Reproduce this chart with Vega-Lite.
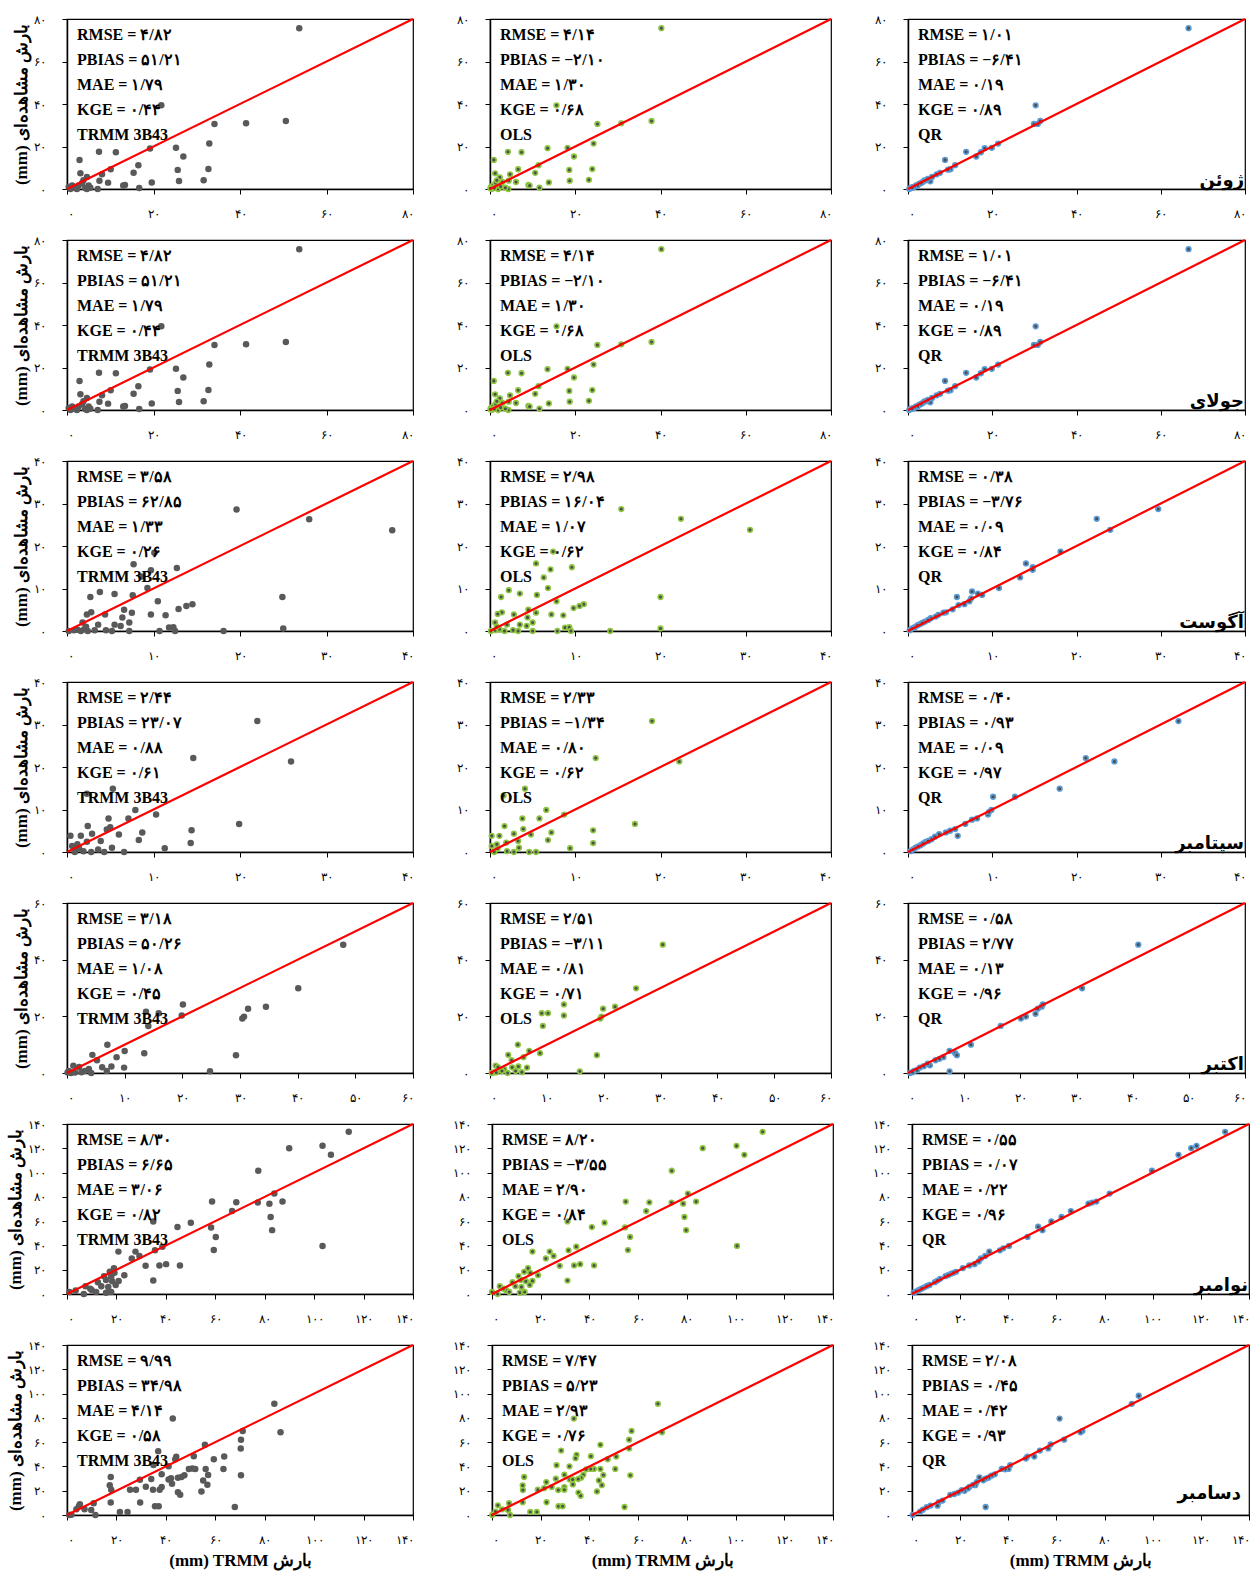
{
  "$schema": "https://vega.github.io/schema/vega-lite/v6.json",
  "background": "white",
  "padding": {"left": 5, "top": 12, "right": 0, "bottom": 5},
  "config": {
    "locale": {"number": {"decimal": "/", "thousands": ",", "grouping": [3], "currency": ["", ""], "numerals": ["۰", "۱", "۲", "۳", "۴", "۵", "۶", "۷", "۸", "۹"]}},
    "view": {"stroke": "#000000", "strokeWidth": 1.2},
    "axis": {"grid": false, "tickCount": 20, "domainColor": "#000000", "domainWidth": 1.5, "tickColor": "#000000", "tickSize": 5, "tickWidth": 1, "labelFont": "Liberation Serif", "labelFontSize": 12, "labelColor": "#000000", "titleFont": "Liberation Serif", "titleFontSize": 17, "titleFontWeight": "bold", "titleColor": "#000000"},
    "axisX": {"labelPadding": 14, "titlePadding": 7},
    "axisY": {"labelPadding": 17, "titlePadding": 3},
    "circle": {"opacity": 1},
    "line": {"color": "#ff0000", "strokeWidth": 2.2},
    "text": {"font": "Liberation Serif", "fontSize": 16, "fontWeight": "bold", "color": "#000000", "align": "left", "baseline": "top", "dx": 10, "dy": 8, "lineBreak": "\n", "lineHeight": 25}
  },
  "datasets": {
    "diag": [
      {"month": "Jun", "v": 0}, {"month": "Jun", "v": 80},
      {"month": "Jul", "v": 0}, {"month": "Jul", "v": 80},
      {"month": "Aug", "v": 0}, {"month": "Aug", "v": 40},
      {"month": "Sep", "v": 0}, {"month": "Sep", "v": 40},
      {"month": "Oct", "v": 0}, {"month": "Oct", "v": 60},
      {"month": "Nov", "v": 0}, {"month": "Nov", "v": 140},
      {"month": "Dec", "v": 0}, {"month": "Dec", "v": 140}
    ],
    "months": [
      {"month": "Jun", "name": "ژوئن"},
      {"month": "Jul", "name": "جولای"},
      {"month": "Aug", "name": "آگوست"},
      {"month": "Sep", "name": "سپتامبر"},
      {"month": "Oct", "name": "اکتبر"},
      {"month": "Nov", "name": "نوامبر"},
      {"month": "Dec", "name": "دسامبر"}
    ],
    "stats": [
      {"month": "Jun", "model": "TRMM", "text": "RMSE = ۴/۸۲\nPBIAS = ۵۱/۲۱\nMAE = ۱/۷۹\nKGE = ۰/۴۴\nTRMM 3B43"},
      {"month": "Jun", "model": "OLS", "text": "RMSE = ۴/۱۴\nPBIAS = −۲/۱۰\nMAE = ۱/۳۰\nKGE = ۰/۶۸\nOLS"},
      {"month": "Jun", "model": "QR", "text": "RMSE = ۱/۰۱\nPBIAS = −۶/۴۱\nMAE = ۰/۱۹\nKGE = ۰/۸۹\nQR"},
      {"month": "Jul", "model": "TRMM", "text": "RMSE = ۴/۸۲\nPBIAS = ۵۱/۲۱\nMAE = ۱/۷۹\nKGE = ۰/۴۴\nTRMM 3B43"},
      {"month": "Jul", "model": "OLS", "text": "RMSE = ۴/۱۴\nPBIAS = −۲/۱۰\nMAE = ۱/۳۰\nKGE = ۰/۶۸\nOLS"},
      {"month": "Jul", "model": "QR", "text": "RMSE = ۱/۰۱\nPBIAS = −۶/۴۱\nMAE = ۰/۱۹\nKGE = ۰/۸۹\nQR"},
      {"month": "Aug", "model": "TRMM", "text": "RMSE = ۳/۵۸\nPBIAS = ۶۲/۸۵\nMAE = ۱/۳۳\nKGE = ۰/۲۶\nTRMM 3B43"},
      {"month": "Aug", "model": "OLS", "text": "RMSE = ۲/۹۸\nPBIAS = ۱۶/۰۴\nMAE = ۱/۰۷\nKGE = ۰/۶۲\nOLS"},
      {"month": "Aug", "model": "QR", "text": "RMSE = ۰/۳۸\nPBIAS = −۳/۷۶\nMAE = ۰/۰۹\nKGE = ۰/۸۴\nQR"},
      {"month": "Sep", "model": "TRMM", "text": "RMSE = ۲/۴۴\nPBIAS = ۲۳/۰۷\nMAE = ۰/۸۸\nKGE = ۰/۶۱\nTRMM 3B43"},
      {"month": "Sep", "model": "OLS", "text": "RMSE = ۲/۳۳\nPBIAS = −۱/۳۴\nMAE = ۰/۸۰\nKGE = ۰/۶۲\nOLS"},
      {"month": "Sep", "model": "QR", "text": "RMSE = ۰/۴۰\nPBIAS = ۰/۹۳\nMAE = ۰/۰۹\nKGE = ۰/۹۷\nQR"},
      {"month": "Oct", "model": "TRMM", "text": "RMSE = ۳/۱۸\nPBIAS = ۵۰/۲۶\nMAE = ۱/۰۸\nKGE = ۰/۴۵\nTRMM 3B43"},
      {"month": "Oct", "model": "OLS", "text": "RMSE = ۲/۵۱\nPBIAS = −۳/۱۱\nMAE = ۰/۸۱\nKGE = ۰/۷۱\nOLS"},
      {"month": "Oct", "model": "QR", "text": "RMSE = ۰/۵۸\nPBIAS = ۲/۷۷\nMAE = ۰/۱۳\nKGE = ۰/۹۶\nQR"},
      {"month": "Nov", "model": "TRMM", "text": "RMSE = ۸/۳۰\nPBIAS = ۶/۶۵\nMAE = ۳/۰۶\nKGE = ۰/۸۲\nTRMM 3B43"},
      {"month": "Nov", "model": "OLS", "text": "RMSE = ۸/۲۰\nPBIAS = −۳/۵۵\nMAE = ۲/۹۰\nKGE = ۰/۸۴\nOLS"},
      {"month": "Nov", "model": "QR", "text": "RMSE = ۰/۵۵\nPBIAS = ۰/۰۷\nMAE = ۰/۲۲\nKGE = ۰/۹۶\nQR"},
      {"month": "Dec", "model": "TRMM", "text": "RMSE = ۹/۹۹\nPBIAS = ۳۴/۹۸\nMAE = ۴/۱۴\nKGE = ۰/۵۸\nTRMM 3B43"},
      {"month": "Dec", "model": "OLS", "text": "RMSE = ۷/۴۷\nPBIAS = ۵/۲۳\nMAE = ۲/۹۳\nKGE = ۰/۷۶\nOLS"},
      {"month": "Dec", "model": "QR", "text": "RMSE = ۲/۰۸\nPBIAS = ۰/۴۵\nMAE = ۰/۴۲\nKGE = ۰/۹۳\nQR"}
    ],
    "pts": [
      {"month":"Jun","model":"TRMM","est":53.7,"obs":75.7},{"month":"Jun","model":"TRMM","est":21.8,"obs":39.4},{"month":"Jun","model":"TRMM","est":34.1,"obs":30.6},{"month":"Jun","model":"TRMM","est":41.4,"obs":30.9},{"month":"Jun","model":"TRMM","est":50.6,"obs":32.0},{"month":"Jun","model":"TRMM","est":32.9,"obs":21.4},{"month":"Jun","model":"TRMM","est":25.2,"obs":19.4},{"month":"Jun","model":"TRMM","est":19.2,"obs":19.1},{"month":"Jun","model":"TRMM","est":26.9,"obs":15.3},{"month":"Jun","model":"TRMM","est":7.4,"obs":17.5},{"month":"Jun","model":"TRMM","est":11.3,"obs":17.3},{"month":"Jun","model":"TRMM","est":2.9,"obs":13.7},{"month":"Jun","model":"TRMM","est":16.5,"obs":11.2},{"month":"Jun","model":"TRMM","est":10.1,"obs":9.3},{"month":"Jun","model":"TRMM","est":25.6,"obs":9.0},{"month":"Jun","model":"TRMM","est":32.7,"obs":9.4},{"month":"Jun","model":"TRMM","est":15.4,"obs":7.6},{"month":"Jun","model":"TRMM","est":8.1,"obs":6.9},{"month":"Jun","model":"TRMM","est":3.1,"obs":7.4},{"month":"Jun","model":"TRMM","est":4.6,"obs":5.7},{"month":"Jun","model":"TRMM","est":7.5,"obs":3.9},{"month":"Jun","model":"TRMM","est":9.5,"obs":3.0},{"month":"Jun","model":"TRMM","est":19.6,"obs":3.1},{"month":"Jun","model":"TRMM","est":25.9,"obs":3.8},{"month":"Jun","model":"TRMM","est":31.6,"obs":4.1},{"month":"Jun","model":"TRMM","est":13.4,"obs":1.9},{"month":"Jun","model":"TRMM","est":13.0,"obs":1.6},{"month":"Jun","model":"TRMM","est":16.7,"obs":0.5},{"month":"Jun","model":"TRMM","est":7.1,"obs":0},{"month":"Jun","model":"TRMM","est":0.4,"obs":0.9},{"month":"Jun","model":"TRMM","est":1.2,"obs":1.7},{"month":"Jun","model":"TRMM","est":1.9,"obs":0.5},{"month":"Jun","model":"TRMM","est":2.7,"obs":1.6},{"month":"Jun","model":"TRMM","est":3.5,"obs":2.8},{"month":"Jun","model":"TRMM","est":4.2,"obs":0.5},{"month":"Jun","model":"TRMM","est":5.0,"obs":1.6},{"month":"Jun","model":"TRMM","est":2.3,"obs":0},{"month":"Jun","model":"TRMM","est":3.8,"obs":4.1},{"month":"Jun","model":"TRMM","est":5.4,"obs":0.6},{"month":"Jun","model":"TRMM","est":0.8,"obs":0},{"month":"Jun","model":"TRMM","est":4.6,"obs":0},
      {"month":"Jun","model":"OLS","est":40.2,"obs":75.7},{"month":"Jun","model":"OLS","est":15.6,"obs":39.4},{"month":"Jun","model":"OLS","est":25.2,"obs":30.6},{"month":"Jun","model":"OLS","est":30.8,"obs":30.9},{"month":"Jun","model":"OLS","est":37.9,"obs":32.0},{"month":"Jun","model":"OLS","est":24.3,"obs":21.4},{"month":"Jun","model":"OLS","est":18.2,"obs":19.4},{"month":"Jun","model":"OLS","est":13.5,"obs":19.2},{"month":"Jun","model":"OLS","est":19.7,"obs":15.3},{"month":"Jun","model":"OLS","est":4.2,"obs":17.5},{"month":"Jun","model":"OLS","est":7.4,"obs":17.3},{"month":"Jun","model":"OLS","est":0.9,"obs":13.7},{"month":"Jun","model":"OLS","est":11.4,"obs":11.2},{"month":"Jun","model":"OLS","est":6.6,"obs":9.3},{"month":"Jun","model":"OLS","est":18.6,"obs":9.0},{"month":"Jun","model":"OLS","est":24.0,"obs":9.4},{"month":"Jun","model":"OLS","est":10.6,"obs":7.6},{"month":"Jun","model":"OLS","est":4.7,"obs":6.9},{"month":"Jun","model":"OLS","est":1.2,"obs":7.4},{"month":"Jun","model":"OLS","est":2.3,"obs":5.5},{"month":"Jun","model":"OLS","est":4.4,"obs":3.9},{"month":"Jun","model":"OLS","est":6.1,"obs":3.3},{"month":"Jun","model":"OLS","est":9.0,"obs":1.9},{"month":"Jun","model":"OLS","est":9.3,"obs":1.6},{"month":"Jun","model":"OLS","est":13.8,"obs":3.1},{"month":"Jun","model":"OLS","est":18.7,"obs":3.9},{"month":"Jun","model":"OLS","est":23.2,"obs":4.3},{"month":"Jun","model":"OLS","est":11.6,"obs":0.6},{"month":"Jun","model":"OLS","est":4.3,"obs":0},{"month":"Jun","model":"OLS","est":0.2,"obs":0.9},{"month":"Jun","model":"OLS","est":0.7,"obs":1.7},{"month":"Jun","model":"OLS","est":1.3,"obs":2.8},{"month":"Jun","model":"OLS","est":1.9,"obs":0},{"month":"Jun","model":"OLS","est":2.5,"obs":1.2},{"month":"Jun","model":"OLS","est":2.9,"obs":3.3},{"month":"Jun","model":"OLS","est":0.4,"obs":0},{"month":"Jun","model":"OLS","est":1.6,"obs":4.1},{"month":"Jun","model":"OLS","est":3.6,"obs":0.6},{"month":"Jun","model":"OLS","est":0.1,"obs":0.3},{"month":"Jun","model":"OLS","est":1.0,"obs":0.5},
      {"month":"Jun","model":"QR","est":66.6,"obs":75.7},{"month":"Jun","model":"QR","est":30.3,"obs":39.4},{"month":"Jun","model":"QR","est":29.9,"obs":30.6},{"month":"Jun","model":"QR","est":30.8,"obs":30.6},{"month":"Jun","model":"QR","est":31.4,"obs":32.0},{"month":"Jun","model":"QR","est":21.4,"obs":21.4},{"month":"Jun","model":"QR","est":19.9,"obs":19.4},{"month":"Jun","model":"QR","est":18.2,"obs":19.2},{"month":"Jun","model":"QR","est":17.3,"obs":17.3},{"month":"Jun","model":"QR","est":13.8,"obs":17.5},{"month":"Jun","model":"QR","est":16.2,"obs":15.3},{"month":"Jun","model":"QR","est":8.8,"obs":13.7},{"month":"Jun","model":"QR","est":11.2,"obs":11.2},{"month":"Jun","model":"QR","est":10.1,"obs":9.3},{"month":"Jun","model":"QR","est":9.5,"obs":9.1},{"month":"Jun","model":"QR","est":7.6,"obs":7.6},{"month":"Jun","model":"QR","est":6.8,"obs":6.9},{"month":"Jun","model":"QR","est":5.7,"obs":5.7},{"month":"Jun","model":"QR","est":5.3,"obs":3.6},{"month":"Jun","model":"QR","est":3.9,"obs":4.1},{"month":"Jun","model":"QR","est":3.5,"obs":3.3},{"month":"Jun","model":"QR","est":2.7,"obs":2.5},{"month":"Jun","model":"QR","est":1.9,"obs":1.7},{"month":"Jun","model":"QR","est":1.1,"obs":0.9},{"month":"Jun","model":"QR","est":0.3,"obs":0},{"month":"Jun","model":"QR","est":2.3,"obs":1.6},{"month":"Jun","model":"QR","est":1.5,"obs":0.9},{"month":"Jun","model":"QR","est":0.7,"obs":0.5},{"month":"Jun","model":"QR","est":3.1,"obs":2.8},{"month":"Jun","model":"QR","est":4.3,"obs":4.1},{"month":"Jun","model":"QR","est":4.7,"obs":4.7},{"month":"Jun","model":"QR","est":0.5,"obs":0.3},{"month":"Jun","model":"QR","est":1.0,"obs":0.6},
      {"month":"Jul","model":"TRMM","est":53.7,"obs":75.7},{"month":"Jul","model":"TRMM","est":21.8,"obs":39.4},{"month":"Jul","model":"TRMM","est":34.1,"obs":30.6},{"month":"Jul","model":"TRMM","est":41.4,"obs":30.9},{"month":"Jul","model":"TRMM","est":50.6,"obs":32.0},{"month":"Jul","model":"TRMM","est":32.9,"obs":21.4},{"month":"Jul","model":"TRMM","est":25.2,"obs":19.4},{"month":"Jul","model":"TRMM","est":19.2,"obs":19.1},{"month":"Jul","model":"TRMM","est":26.9,"obs":15.3},{"month":"Jul","model":"TRMM","est":7.4,"obs":17.5},{"month":"Jul","model":"TRMM","est":11.3,"obs":17.3},{"month":"Jul","model":"TRMM","est":2.9,"obs":13.7},{"month":"Jul","model":"TRMM","est":16.5,"obs":11.2},{"month":"Jul","model":"TRMM","est":10.1,"obs":9.3},{"month":"Jul","model":"TRMM","est":25.6,"obs":9.0},{"month":"Jul","model":"TRMM","est":32.7,"obs":9.4},{"month":"Jul","model":"TRMM","est":15.4,"obs":7.6},{"month":"Jul","model":"TRMM","est":8.1,"obs":6.9},{"month":"Jul","model":"TRMM","est":3.1,"obs":7.4},{"month":"Jul","model":"TRMM","est":4.6,"obs":5.7},{"month":"Jul","model":"TRMM","est":7.5,"obs":3.9},{"month":"Jul","model":"TRMM","est":9.5,"obs":3.0},{"month":"Jul","model":"TRMM","est":19.6,"obs":3.1},{"month":"Jul","model":"TRMM","est":25.9,"obs":3.8},{"month":"Jul","model":"TRMM","est":31.6,"obs":4.1},{"month":"Jul","model":"TRMM","est":13.4,"obs":1.9},{"month":"Jul","model":"TRMM","est":13.0,"obs":1.6},{"month":"Jul","model":"TRMM","est":16.7,"obs":0.5},{"month":"Jul","model":"TRMM","est":7.1,"obs":0},{"month":"Jul","model":"TRMM","est":0.4,"obs":0.9},{"month":"Jul","model":"TRMM","est":1.2,"obs":1.7},{"month":"Jul","model":"TRMM","est":1.9,"obs":0.5},{"month":"Jul","model":"TRMM","est":2.7,"obs":1.6},{"month":"Jul","model":"TRMM","est":3.5,"obs":2.8},{"month":"Jul","model":"TRMM","est":4.2,"obs":0.5},{"month":"Jul","model":"TRMM","est":5.0,"obs":1.6},{"month":"Jul","model":"TRMM","est":2.3,"obs":0},{"month":"Jul","model":"TRMM","est":3.8,"obs":4.1},{"month":"Jul","model":"TRMM","est":5.4,"obs":0.6},{"month":"Jul","model":"TRMM","est":0.8,"obs":0},{"month":"Jul","model":"TRMM","est":4.6,"obs":0},
      {"month":"Jul","model":"OLS","est":40.2,"obs":75.7},{"month":"Jul","model":"OLS","est":15.6,"obs":39.4},{"month":"Jul","model":"OLS","est":25.2,"obs":30.6},{"month":"Jul","model":"OLS","est":30.8,"obs":30.9},{"month":"Jul","model":"OLS","est":37.9,"obs":32.0},{"month":"Jul","model":"OLS","est":24.3,"obs":21.4},{"month":"Jul","model":"OLS","est":18.2,"obs":19.4},{"month":"Jul","model":"OLS","est":13.5,"obs":19.2},{"month":"Jul","model":"OLS","est":19.7,"obs":15.3},{"month":"Jul","model":"OLS","est":4.2,"obs":17.5},{"month":"Jul","model":"OLS","est":7.4,"obs":17.3},{"month":"Jul","model":"OLS","est":0.9,"obs":13.7},{"month":"Jul","model":"OLS","est":11.4,"obs":11.2},{"month":"Jul","model":"OLS","est":6.6,"obs":9.3},{"month":"Jul","model":"OLS","est":18.6,"obs":9.0},{"month":"Jul","model":"OLS","est":24.0,"obs":9.4},{"month":"Jul","model":"OLS","est":10.6,"obs":7.6},{"month":"Jul","model":"OLS","est":4.7,"obs":6.9},{"month":"Jul","model":"OLS","est":1.2,"obs":7.4},{"month":"Jul","model":"OLS","est":2.3,"obs":5.5},{"month":"Jul","model":"OLS","est":4.4,"obs":3.9},{"month":"Jul","model":"OLS","est":6.1,"obs":3.3},{"month":"Jul","model":"OLS","est":9.0,"obs":1.9},{"month":"Jul","model":"OLS","est":9.3,"obs":1.6},{"month":"Jul","model":"OLS","est":13.8,"obs":3.1},{"month":"Jul","model":"OLS","est":18.7,"obs":3.9},{"month":"Jul","model":"OLS","est":23.2,"obs":4.3},{"month":"Jul","model":"OLS","est":11.6,"obs":0.6},{"month":"Jul","model":"OLS","est":4.3,"obs":0},{"month":"Jul","model":"OLS","est":0.2,"obs":0.9},{"month":"Jul","model":"OLS","est":0.7,"obs":1.7},{"month":"Jul","model":"OLS","est":1.3,"obs":2.8},{"month":"Jul","model":"OLS","est":1.9,"obs":0},{"month":"Jul","model":"OLS","est":2.5,"obs":1.2},{"month":"Jul","model":"OLS","est":2.9,"obs":3.3},{"month":"Jul","model":"OLS","est":0.4,"obs":0},{"month":"Jul","model":"OLS","est":1.6,"obs":4.1},{"month":"Jul","model":"OLS","est":3.6,"obs":0.6},{"month":"Jul","model":"OLS","est":0.1,"obs":0.3},{"month":"Jul","model":"OLS","est":1.0,"obs":0.5},
      {"month":"Jul","model":"QR","est":66.6,"obs":75.7},{"month":"Jul","model":"QR","est":30.3,"obs":39.4},{"month":"Jul","model":"QR","est":29.9,"obs":30.6},{"month":"Jul","model":"QR","est":30.8,"obs":30.6},{"month":"Jul","model":"QR","est":31.4,"obs":32.0},{"month":"Jul","model":"QR","est":21.4,"obs":21.4},{"month":"Jul","model":"QR","est":19.9,"obs":19.4},{"month":"Jul","model":"QR","est":18.2,"obs":19.2},{"month":"Jul","model":"QR","est":17.3,"obs":17.3},{"month":"Jul","model":"QR","est":13.8,"obs":17.5},{"month":"Jul","model":"QR","est":16.2,"obs":15.3},{"month":"Jul","model":"QR","est":8.8,"obs":13.7},{"month":"Jul","model":"QR","est":11.2,"obs":11.2},{"month":"Jul","model":"QR","est":10.1,"obs":9.3},{"month":"Jul","model":"QR","est":9.5,"obs":9.1},{"month":"Jul","model":"QR","est":7.6,"obs":7.6},{"month":"Jul","model":"QR","est":6.8,"obs":6.9},{"month":"Jul","model":"QR","est":5.7,"obs":5.7},{"month":"Jul","model":"QR","est":5.3,"obs":3.6},{"month":"Jul","model":"QR","est":3.9,"obs":4.1},{"month":"Jul","model":"QR","est":3.5,"obs":3.3},{"month":"Jul","model":"QR","est":2.7,"obs":2.5},{"month":"Jul","model":"QR","est":1.9,"obs":1.7},{"month":"Jul","model":"QR","est":1.1,"obs":0.9},{"month":"Jul","model":"QR","est":0.3,"obs":0},{"month":"Jul","model":"QR","est":2.3,"obs":1.6},{"month":"Jul","model":"QR","est":1.5,"obs":0.9},{"month":"Jul","model":"QR","est":0.7,"obs":0.5},{"month":"Jul","model":"QR","est":3.1,"obs":2.8},{"month":"Jul","model":"QR","est":4.3,"obs":4.1},{"month":"Jul","model":"QR","est":4.7,"obs":4.7},{"month":"Jul","model":"QR","est":0.5,"obs":0.3},{"month":"Jul","model":"QR","est":1.0,"obs":0.6},
      {"month":"Aug","model":"TRMM","est":19.6,"obs":28.6},{"month":"Aug","model":"TRMM","est":28.0,"obs":26.3},{"month":"Aug","model":"TRMM","est":37.6,"obs":23.7},{"month":"Aug","model":"TRMM","est":10.1,"obs":18.4},{"month":"Aug","model":"TRMM","est":7.7,"obs":15.7},{"month":"Aug","model":"TRMM","est":9.7,"obs":14.3},{"month":"Aug","model":"TRMM","est":12.7,"obs":14.8},{"month":"Aug","model":"TRMM","est":8.6,"obs":12.8},{"month":"Aug","model":"TRMM","est":9.3,"obs":10.1},{"month":"Aug","model":"TRMM","est":3.8,"obs":9.2},{"month":"Aug","model":"TRMM","est":5.5,"obs":8.7},{"month":"Aug","model":"TRMM","est":7.6,"obs":8.4},{"month":"Aug","model":"TRMM","est":2.7,"obs":8.0},{"month":"Aug","model":"TRMM","est":24.9,"obs":8.0},{"month":"Aug","model":"TRMM","est":10.5,"obs":7.0},{"month":"Aug","model":"TRMM","est":14.5,"obs":6.3},{"month":"Aug","model":"TRMM","est":13.8,"obs":5.9},{"month":"Aug","model":"TRMM","est":12.9,"obs":5.2},{"month":"Aug","model":"TRMM","est":6.6,"obs":5.0},{"month":"Aug","model":"TRMM","est":2.8,"obs":4.4},{"month":"Aug","model":"TRMM","est":2.3,"obs":3.9},{"month":"Aug","model":"TRMM","est":4.4,"obs":3.9},{"month":"Aug","model":"TRMM","est":7.5,"obs":4.3},{"month":"Aug","model":"TRMM","est":9.7,"obs":3.9},{"month":"Aug","model":"TRMM","est":11.4,"obs":3.7},{"month":"Aug","model":"TRMM","est":6.4,"obs":3.2},{"month":"Aug","model":"TRMM","est":7.2,"obs":2.0},{"month":"Aug","model":"TRMM","est":1.8,"obs":2.0},{"month":"Aug","model":"TRMM","est":5.5,"obs":1.5},{"month":"Aug","model":"TRMM","est":6.2,"obs":1.2},{"month":"Aug","model":"TRMM","est":3.6,"obs":1.5},{"month":"Aug","model":"TRMM","est":11.8,"obs":0.8},{"month":"Aug","model":"TRMM","est":12.3,"obs":0.9},{"month":"Aug","model":"TRMM","est":25.0,"obs":0.6},{"month":"Aug","model":"TRMM","est":10.7,"obs":0},{"month":"Aug","model":"TRMM","est":12.5,"obs":0},{"month":"Aug","model":"TRMM","est":18.1,"obs":0},{"month":"Aug","model":"TRMM","est":7.2,"obs":0},{"month":"Aug","model":"TRMM","est":5.2,"obs":0},{"month":"Aug","model":"TRMM","est":4.5,"obs":0.2},{"month":"Aug","model":"TRMM","est":3.2,"obs":0.2},{"month":"Aug","model":"TRMM","est":0.2,"obs":0},{"month":"Aug","model":"TRMM","est":0.8,"obs":0.2},{"month":"Aug","model":"TRMM","est":1.2,"obs":0.3},{"month":"Aug","model":"TRMM","est":1.6,"obs":0},{"month":"Aug","model":"TRMM","est":2.0,"obs":0.4},{"month":"Aug","model":"TRMM","est":2.4,"obs":0},{"month":"Aug","model":"TRMM","est":2.2,"obs":1.0},
      {"month":"Aug","model":"OLS","est":15.4,"obs":28.7},{"month":"Aug","model":"OLS","est":22.4,"obs":26.4},{"month":"Aug","model":"OLS","est":30.5,"obs":23.8},{"month":"Aug","model":"OLS","est":7.4,"obs":18.7},{"month":"Aug","model":"OLS","est":5.4,"obs":15.9},{"month":"Aug","model":"OLS","est":7.1,"obs":14.5},{"month":"Aug","model":"OLS","est":9.6,"obs":15.0},{"month":"Aug","model":"OLS","est":6.3,"obs":12.6},{"month":"Aug","model":"OLS","est":6.8,"obs":10.1},{"month":"Aug","model":"OLS","est":2.2,"obs":9.6},{"month":"Aug","model":"OLS","est":3.5,"obs":8.8},{"month":"Aug","model":"OLS","est":5.5,"obs":8.5},{"month":"Aug","model":"OLS","est":1.3,"obs":8.0},{"month":"Aug","model":"OLS","est":20.0,"obs":8.0},{"month":"Aug","model":"OLS","est":7.8,"obs":7.0},{"month":"Aug","model":"OLS","est":11.0,"obs":6.3},{"month":"Aug","model":"OLS","est":10.5,"obs":5.9},{"month":"Aug","model":"OLS","est":9.8,"obs":5.4},{"month":"Aug","model":"OLS","est":4.5,"obs":5.0},{"month":"Aug","model":"OLS","est":1.4,"obs":4.4},{"month":"Aug","model":"OLS","est":0.9,"obs":4.0},{"month":"Aug","model":"OLS","est":2.8,"obs":3.9},{"month":"Aug","model":"OLS","est":5.4,"obs":4.3},{"month":"Aug","model":"OLS","est":7.2,"obs":3.9},{"month":"Aug","model":"OLS","est":8.6,"obs":3.7},{"month":"Aug","model":"OLS","est":4.4,"obs":3.2},{"month":"Aug","model":"OLS","est":5.0,"obs":2.0},{"month":"Aug","model":"OLS","est":0.6,"obs":2.0},{"month":"Aug","model":"OLS","est":3.5,"obs":1.5},{"month":"Aug","model":"OLS","est":4.3,"obs":1.2},{"month":"Aug","model":"OLS","est":2.0,"obs":1.5},{"month":"Aug","model":"OLS","est":8.8,"obs":0.8},{"month":"Aug","model":"OLS","est":9.3,"obs":0.9},{"month":"Aug","model":"OLS","est":20.0,"obs":0.6},{"month":"Aug","model":"OLS","est":7.9,"obs":0},{"month":"Aug","model":"OLS","est":9.5,"obs":0},{"month":"Aug","model":"OLS","est":14.1,"obs":0},{"month":"Aug","model":"OLS","est":5.0,"obs":0},{"month":"Aug","model":"OLS","est":3.3,"obs":0},{"month":"Aug","model":"OLS","est":2.7,"obs":0.2},{"month":"Aug","model":"OLS","est":0.1,"obs":0},{"month":"Aug","model":"OLS","est":0.6,"obs":0.2},{"month":"Aug","model":"OLS","est":1.1,"obs":0.4},{"month":"Aug","model":"OLS","est":1.7,"obs":0},{"month":"Aug","model":"OLS","est":0.8,"obs":1.0},
      {"month":"Aug","model":"QR","est":29.7,"obs":28.7},{"month":"Aug","model":"QR","est":22.4,"obs":26.4},{"month":"Aug","model":"QR","est":24.0,"obs":23.8},{"month":"Aug","model":"QR","est":18.1,"obs":18.7},{"month":"Aug","model":"QR","est":14.0,"obs":15.9},{"month":"Aug","model":"QR","est":14.8,"obs":15.0},{"month":"Aug","model":"QR","est":14.8,"obs":14.4},{"month":"Aug","model":"QR","est":13.3,"obs":12.6},{"month":"Aug","model":"QR","est":10.8,"obs":10.1},{"month":"Aug","model":"QR","est":8.8,"obs":8.5},{"month":"Aug","model":"QR","est":8.3,"obs":8.8},{"month":"Aug","model":"QR","est":7.6,"obs":9.3},{"month":"Aug","model":"QR","est":5.8,"obs":8.0},{"month":"Aug","model":"QR","est":7.5,"obs":7.7},{"month":"Aug","model":"QR","est":7.3,"obs":7.0},{"month":"Aug","model":"QR","est":6.7,"obs":6.3},{"month":"Aug","model":"QR","est":6.0,"obs":6.1},{"month":"Aug","model":"QR","est":5.3,"obs":5.1},{"month":"Aug","model":"QR","est":4.5,"obs":4.4},{"month":"Aug","model":"QR","est":3.6,"obs":3.8},{"month":"Aug","model":"QR","est":2.7,"obs":3.0},{"month":"Aug","model":"QR","est":2.0,"obs":2.2},{"month":"Aug","model":"QR","est":1.4,"obs":1.6},{"month":"Aug","model":"QR","est":0.8,"obs":0.9},{"month":"Aug","model":"QR","est":0.2,"obs":0.2},{"month":"Aug","model":"QR","est":4.2,"obs":4.3},{"month":"Aug","model":"QR","est":3.3,"obs":3.4},{"month":"Aug","model":"QR","est":2.4,"obs":2.6},{"month":"Aug","model":"QR","est":1.7,"obs":1.9},{"month":"Aug","model":"QR","est":1.1,"obs":1.3},{"month":"Aug","model":"QR","est":0.5,"obs":0.6},
      {"month":"Sep","model":"TRMM","est":22.0,"obs":30.8},{"month":"Sep","model":"TRMM","est":14.6,"obs":22.1},{"month":"Sep","model":"TRMM","est":25.9,"obs":21.3},{"month":"Sep","model":"TRMM","est":5.3,"obs":14.9},{"month":"Sep","model":"TRMM","est":2.3,"obs":13.7},{"month":"Sep","model":"TRMM","est":7.9,"obs":9.9},{"month":"Sep","model":"TRMM","est":10.3,"obs":8.8},{"month":"Sep","model":"TRMM","est":4.8,"obs":7.9},{"month":"Sep","model":"TRMM","est":7.1,"obs":7.9},{"month":"Sep","model":"TRMM","est":19.9,"obs":6.6},{"month":"Sep","model":"TRMM","est":14.4,"obs":5.1},{"month":"Sep","model":"TRMM","est":2.4,"obs":6.1},{"month":"Sep","model":"TRMM","est":5.0,"obs":5.8},{"month":"Sep","model":"TRMM","est":8.7,"obs":4.6},{"month":"Sep","model":"TRMM","est":6.0,"obs":4.1},{"month":"Sep","model":"TRMM","est":0.4,"obs":3.8},{"month":"Sep","model":"TRMM","est":1.6,"obs":3.8},{"month":"Sep","model":"TRMM","est":2.9,"obs":4.3},{"month":"Sep","model":"TRMM","est":8.3,"obs":2.8},{"month":"Sep","model":"TRMM","est":14.3,"obs":2.1},{"month":"Sep","model":"TRMM","est":11.3,"obs":0.9},{"month":"Sep","model":"TRMM","est":3.9,"obs":2.6},{"month":"Sep","model":"TRMM","est":2.3,"obs":2.4},{"month":"Sep","model":"TRMM","est":5.2,"obs":1.0},{"month":"Sep","model":"TRMM","est":4.3,"obs":0},{"month":"Sep","model":"TRMM","est":3.6,"obs":0.6},{"month":"Sep","model":"TRMM","est":6.6,"obs":0},{"month":"Sep","model":"TRMM","est":0.9,"obs":0},{"month":"Sep","model":"TRMM","est":1.4,"obs":0.8},{"month":"Sep","model":"TRMM","est":1.9,"obs":0.2},{"month":"Sep","model":"TRMM","est":2.8,"obs":0},{"month":"Sep","model":"TRMM","est":0.6,"obs":1.4},{"month":"Sep","model":"TRMM","est":1.2,"obs":1.8},{"month":"Sep","model":"TRMM","est":4.6,"obs":5.3},
      {"month":"Sep","model":"OLS","est":19.0,"obs":30.8},{"month":"Sep","model":"OLS","est":12.4,"obs":22.1},{"month":"Sep","model":"OLS","est":22.2,"obs":21.3},{"month":"Sep","model":"OLS","est":4.1,"obs":14.9},{"month":"Sep","model":"OLS","est":1.6,"obs":13.3},{"month":"Sep","model":"OLS","est":6.6,"obs":9.9},{"month":"Sep","model":"OLS","est":8.7,"obs":8.8},{"month":"Sep","model":"OLS","est":3.8,"obs":7.9},{"month":"Sep","model":"OLS","est":5.8,"obs":7.9},{"month":"Sep","model":"OLS","est":17.0,"obs":6.6},{"month":"Sep","model":"OLS","est":12.1,"obs":5.1},{"month":"Sep","model":"OLS","est":1.7,"obs":6.1},{"month":"Sep","model":"OLS","est":3.9,"obs":5.4},{"month":"Sep","model":"OLS","est":7.2,"obs":4.6},{"month":"Sep","model":"OLS","est":4.8,"obs":4.1},{"month":"Sep","model":"OLS","est":0.2,"obs":3.8},{"month":"Sep","model":"OLS","est":1.1,"obs":3.8},{"month":"Sep","model":"OLS","est":2.8,"obs":4.3},{"month":"Sep","model":"OLS","est":6.8,"obs":2.8},{"month":"Sep","model":"OLS","est":12.1,"obs":2.1},{"month":"Sep","model":"OLS","est":9.4,"obs":0.9},{"month":"Sep","model":"OLS","est":3.3,"obs":2.6},{"month":"Sep","model":"OLS","est":1.9,"obs":2.2},{"month":"Sep","model":"OLS","est":3.4,"obs":1.0},{"month":"Sep","model":"OLS","est":4.6,"obs":0},{"month":"Sep","model":"OLS","est":2.8,"obs":0},{"month":"Sep","model":"OLS","est":5.4,"obs":0},{"month":"Sep","model":"OLS","est":0.5,"obs":0},{"month":"Sep","model":"OLS","est":0.9,"obs":0.8},{"month":"Sep","model":"OLS","est":2.0,"obs":0.2},{"month":"Sep","model":"OLS","est":0.2,"obs":1.4},{"month":"Sep","model":"OLS","est":0.8,"obs":1.8},
      {"month":"Sep","model":"QR","est":32.1,"obs":30.8},{"month":"Sep","model":"QR","est":21.1,"obs":22.1},{"month":"Sep","model":"QR","est":24.5,"obs":21.3},{"month":"Sep","model":"QR","est":18.0,"obs":14.9},{"month":"Sep","model":"QR","est":12.7,"obs":13.0},{"month":"Sep","model":"QR","est":10.1,"obs":13.0},{"month":"Sep","model":"QR","est":9.9,"obs":9.9},{"month":"Sep","model":"QR","est":9.5,"obs":8.8},{"month":"Sep","model":"QR","est":8.2,"obs":7.9},{"month":"Sep","model":"QR","est":6.8,"obs":6.6},{"month":"Sep","model":"QR","est":5.6,"obs":5.4},{"month":"Sep","model":"QR","est":5.9,"obs":3.8},{"month":"Sep","model":"QR","est":5.0,"obs":5.0},{"month":"Sep","model":"QR","est":4.5,"obs":4.6},{"month":"Sep","model":"QR","est":3.7,"obs":4.2},{"month":"Sep","model":"QR","est":2.8,"obs":3.0},{"month":"Sep","model":"QR","est":2.1,"obs":2.4},{"month":"Sep","model":"QR","est":1.5,"obs":1.6},{"month":"Sep","model":"QR","est":0.9,"obs":1.0},{"month":"Sep","model":"QR","est":0.3,"obs":0.2},{"month":"Sep","model":"QR","est":3.2,"obs":3.6},{"month":"Sep","model":"QR","est":2.4,"obs":2.6},{"month":"Sep","model":"QR","est":1.8,"obs":2.0},{"month":"Sep","model":"QR","est":1.2,"obs":1.3},{"month":"Sep","model":"QR","est":0.6,"obs":0.6},{"month":"Sep","model":"QR","est":9.6,"obs":9.4},{"month":"Sep","model":"QR","est":7.6,"obs":7.6},
      {"month":"Oct","model":"TRMM","est":47.9,"obs":45.3},{"month":"Oct","model":"TRMM","est":40.1,"obs":29.9},{"month":"Oct","model":"TRMM","est":34.5,"obs":23.4},{"month":"Oct","model":"TRMM","est":31.4,"obs":22.7},{"month":"Oct","model":"TRMM","est":30.7,"obs":19.9},{"month":"Oct","model":"TRMM","est":30.4,"obs":19.2},{"month":"Oct","model":"TRMM","est":20.1,"obs":24.2},{"month":"Oct","model":"TRMM","est":19.9,"obs":20.3},{"month":"Oct","model":"TRMM","est":15.9,"obs":21.1},{"month":"Oct","model":"TRMM","est":13.7,"obs":21.6},{"month":"Oct","model":"TRMM","est":14.1,"obs":16.6},{"month":"Oct","model":"TRMM","est":29.3,"obs":6.3},{"month":"Oct","model":"TRMM","est":13.4,"obs":7.0},{"month":"Oct","model":"TRMM","est":10.0,"obs":7.8},{"month":"Oct","model":"TRMM","est":7.0,"obs":10.0},{"month":"Oct","model":"TRMM","est":8.6,"obs":5.6},{"month":"Oct","model":"TRMM","est":4.4,"obs":6.4},{"month":"Oct","model":"TRMM","est":5.2,"obs":4.5},{"month":"Oct","model":"TRMM","est":24.8,"obs":0.6},{"month":"Oct","model":"TRMM","est":9.9,"obs":1.9},{"month":"Oct","model":"TRMM","est":7.7,"obs":2.3},{"month":"Oct","model":"TRMM","est":6.1,"obs":2.0},{"month":"Oct","model":"TRMM","est":6.9,"obs":0.7},{"month":"Oct","model":"TRMM","est":3.8,"obs":1.4},{"month":"Oct","model":"TRMM","est":1.1,"obs":2.6},{"month":"Oct","model":"TRMM","est":2.1,"obs":2.1},{"month":"Oct","model":"TRMM","est":4.2,"obs":0},{"month":"Oct","model":"TRMM","est":3.1,"obs":0.7},{"month":"Oct","model":"TRMM","est":1.4,"obs":0.2},{"month":"Oct","model":"TRMM","est":0.7,"obs":0},{"month":"Oct","model":"TRMM","est":0.3,"obs":0.7},{"month":"Oct","model":"TRMM","est":2.5,"obs":0.3},{"month":"Oct","model":"TRMM","est":0.1,"obs":0.2},
      {"month":"Oct","model":"OLS","est":30.4,"obs":45.3},{"month":"Oct","model":"OLS","est":25.7,"obs":29.9},{"month":"Oct","model":"OLS","est":22.0,"obs":23.4},{"month":"Oct","model":"OLS","est":19.9,"obs":22.7},{"month":"Oct","model":"OLS","est":19.6,"obs":19.9},{"month":"Oct","model":"OLS","est":19.4,"obs":19.2},{"month":"Oct","model":"OLS","est":13.0,"obs":24.2},{"month":"Oct","model":"OLS","est":13.0,"obs":20.3},{"month":"Oct","model":"OLS","est":10.2,"obs":21.1},{"month":"Oct","model":"OLS","est":9.1,"obs":21.1},{"month":"Oct","model":"OLS","est":9.3,"obs":16.6},{"month":"Oct","model":"OLS","est":18.8,"obs":6.3},{"month":"Oct","model":"OLS","est":8.8,"obs":7.0},{"month":"Oct","model":"OLS","est":6.9,"obs":7.8},{"month":"Oct","model":"OLS","est":4.9,"obs":10.0},{"month":"Oct","model":"OLS","est":5.9,"obs":5.6},{"month":"Oct","model":"OLS","est":3.2,"obs":6.4},{"month":"Oct","model":"OLS","est":3.8,"obs":4.5},{"month":"Oct","model":"OLS","est":15.8,"obs":0.6},{"month":"Oct","model":"OLS","est":6.5,"obs":1.9},{"month":"Oct","model":"OLS","est":5.0,"obs":2.3},{"month":"Oct","model":"OLS","est":3.9,"obs":2.0},{"month":"Oct","model":"OLS","est":4.5,"obs":0.7},{"month":"Oct","model":"OLS","est":2.5,"obs":1.4},{"month":"Oct","model":"OLS","est":1.0,"obs":2.6},{"month":"Oct","model":"OLS","est":1.4,"obs":2.1},{"month":"Oct","model":"OLS","est":3.1,"obs":0},{"month":"Oct","model":"OLS","est":5.6,"obs":0.3},{"month":"Oct","model":"OLS","est":0.6,"obs":0.2},{"month":"Oct","model":"OLS","est":0.3,"obs":0},{"month":"Oct","model":"OLS","est":2.1,"obs":0.7},{"month":"Oct","model":"OLS","est":1.1,"obs":0.2},
      {"month":"Oct","model":"QR","est":41.0,"obs":45.3},{"month":"Oct","model":"QR","est":31.0,"obs":29.9},{"month":"Oct","model":"QR","est":23.8,"obs":23.4},{"month":"Oct","model":"QR","est":23.1,"obs":22.7},{"month":"Oct","model":"QR","est":22.7,"obs":20.9},{"month":"Oct","model":"QR","est":21.0,"obs":19.9},{"month":"Oct","model":"QR","est":20.1,"obs":19.2},{"month":"Oct","model":"QR","est":24.0,"obs":24.2},{"month":"Oct","model":"QR","est":16.5,"obs":16.6},{"month":"Oct","model":"QR","est":11.2,"obs":10.0},{"month":"Oct","model":"QR","est":8.4,"obs":7.0},{"month":"Oct","model":"QR","est":7.4,"obs":7.8},{"month":"Oct","model":"QR","est":8.7,"obs":6.3},{"month":"Oct","model":"QR","est":7.4,"obs":0.6},{"month":"Oct","model":"QR","est":6.3,"obs":5.6},{"month":"Oct","model":"QR","est":4.9,"obs":4.5},{"month":"Oct","model":"QR","est":3.9,"obs":2.7},{"month":"Oct","model":"QR","est":2.8,"obs":2.4},{"month":"Oct","model":"QR","est":2.1,"obs":1.9},{"month":"Oct","model":"QR","est":1.1,"obs":0.7},{"month":"Oct","model":"QR","est":0.4,"obs":0},{"month":"Oct","model":"QR","est":3.5,"obs":3.3},{"month":"Oct","model":"QR","est":1.6,"obs":1.0},{"month":"Oct","model":"QR","est":0.8,"obs":0.3},{"month":"Oct","model":"QR","est":5.6,"obs":5.0},
      {"month":"Nov","model":"TRMM","est":114.0,"obs":133.6},{"month":"Nov","model":"TRMM","est":103.4,"obs":122.0},{"month":"Nov","model":"TRMM","est":106.8,"obs":114.6},{"month":"Nov","model":"TRMM","est":89.9,"obs":120.1},{"month":"Nov","model":"TRMM","est":77.4,"obs":101.5},{"month":"Nov","model":"TRMM","est":83.9,"obs":82.7},{"month":"Nov","model":"TRMM","est":87.2,"obs":76.1},{"month":"Nov","model":"TRMM","est":81.9,"obs":74.4},{"month":"Nov","model":"TRMM","est":77.2,"obs":75.3},{"month":"Nov","model":"TRMM","est":68.5,"obs":75.5},{"month":"Nov","model":"TRMM","est":58.7,"obs":76.1},{"month":"Nov","model":"TRMM","est":66.8,"obs":68.3},{"month":"Nov","model":"TRMM","est":82.4,"obs":63.4},{"month":"Nov","model":"TRMM","est":83.0,"obs":52.6},{"month":"Nov","model":"TRMM","est":103.4,"obs":39.6},{"month":"Nov","model":"TRMM","est":58.3,"obs":54.8},{"month":"Nov","model":"TRMM","est":60.2,"obs":47.0},{"month":"Nov","model":"TRMM","est":59.4,"obs":36.2},{"month":"Nov","model":"TRMM","est":50.1,"obs":58.7},{"month":"Nov","model":"TRMM","est":44.7,"obs":55.1},{"month":"Nov","model":"TRMM","est":34.9,"obs":59.8},{"month":"Nov","model":"TRMM","est":38.6,"obs":39.0},{"month":"Nov","model":"TRMM","est":35.6,"obs":36.0},{"month":"Nov","model":"TRMM","est":27.7,"obs":34.9},{"month":"Nov","model":"TRMM","est":29.3,"obs":31.3},{"month":"Nov","model":"TRMM","est":26.2,"obs":29.3},{"month":"Nov","model":"TRMM","est":20.8,"obs":34.9},{"month":"Nov","model":"TRMM","est":31.8,"obs":23.2},{"month":"Nov","model":"TRMM","est":37.4,"obs":23.5},{"month":"Nov","model":"TRMM","est":40.1,"obs":24.6},{"month":"Nov","model":"TRMM","est":45.7,"obs":23.5},{"month":"Nov","model":"TRMM","est":23.2,"obs":15.5},{"month":"Nov","model":"TRMM","est":34.9,"obs":11.1},{"month":"Nov","model":"TRMM","est":19.0,"obs":21.3},{"month":"Nov","model":"TRMM","est":17.3,"obs":18.3},{"month":"Nov","model":"TRMM","est":19.2,"obs":17.4},{"month":"Nov","model":"TRMM","est":15.0,"obs":14.7},{"month":"Nov","model":"TRMM","est":12.5,"obs":9.7},{"month":"Nov","model":"TRMM","est":15.8,"obs":11.6},{"month":"Nov","model":"TRMM","est":18.3,"obs":10.5},{"month":"Nov","model":"TRMM","est":20.9,"obs":10.8},{"month":"Nov","model":"TRMM","est":19.7,"obs":7.5},{"month":"Nov","model":"TRMM","est":16.7,"obs":5.8},{"month":"Nov","model":"TRMM","est":15.8,"obs":1.1},{"month":"Nov","model":"TRMM","est":17.9,"obs":1.7},{"month":"Nov","model":"TRMM","est":10.0,"obs":3.3},{"month":"Nov","model":"TRMM","est":7.5,"obs":6.4},{"month":"Nov","model":"TRMM","est":6.8,"obs":0},{"month":"Nov","model":"TRMM","est":3.5,"obs":2.8},{"month":"Nov","model":"TRMM","est":1.0,"obs":1.7},{"month":"Nov","model":"TRMM","est":11.8,"obs":1.7},{"month":"Nov","model":"TRMM","est":9.4,"obs":4.4},{"month":"Nov","model":"TRMM","est":13.9,"obs":6.4},{"month":"Nov","model":"TRMM","est":17.9,"obs":14.4},
      {"month":"Nov","model":"OLS","est":111.1,"obs":133.6},{"month":"Nov","model":"OLS","est":100.4,"obs":122.0},{"month":"Nov","model":"OLS","est":103.6,"obs":114.6},{"month":"Nov","model":"OLS","est":86.5,"obs":120.1},{"month":"Nov","model":"OLS","est":73.8,"obs":101.5},{"month":"Nov","model":"OLS","est":80.4,"obs":82.7},{"month":"Nov","model":"OLS","est":83.8,"obs":76.1},{"month":"Nov","model":"OLS","est":78.5,"obs":74.4},{"month":"Nov","model":"OLS","est":73.7,"obs":75.3},{"month":"Nov","model":"OLS","est":64.6,"obs":75.5},{"month":"Nov","model":"OLS","est":54.9,"obs":76.1},{"month":"Nov","model":"OLS","est":63.3,"obs":68.3},{"month":"Nov","model":"OLS","est":79.0,"obs":63.4},{"month":"Nov","model":"OLS","est":79.7,"obs":52.6},{"month":"Nov","model":"OLS","est":100.6,"obs":39.6},{"month":"Nov","model":"OLS","est":54.6,"obs":54.8},{"month":"Nov","model":"OLS","est":56.7,"obs":47.0},{"month":"Nov","model":"OLS","est":55.8,"obs":36.2},{"month":"Nov","model":"OLS","est":46.2,"obs":58.7},{"month":"Nov","model":"OLS","est":41.0,"obs":55.1},{"month":"Nov","model":"OLS","est":31.0,"obs":59.8},{"month":"Nov","model":"OLS","est":34.6,"obs":39.0},{"month":"Nov","model":"OLS","est":31.4,"obs":36.0},{"month":"Nov","model":"OLS","est":23.7,"obs":34.9},{"month":"Nov","model":"OLS","est":25.3,"obs":31.3},{"month":"Nov","model":"OLS","est":22.1,"obs":29.3},{"month":"Nov","model":"OLS","est":16.6,"obs":34.9},{"month":"Nov","model":"OLS","est":27.8,"obs":23.2},{"month":"Nov","model":"OLS","est":33.7,"obs":23.5},{"month":"Nov","model":"OLS","est":36.2,"obs":24.6},{"month":"Nov","model":"OLS","est":41.9,"obs":23.5},{"month":"Nov","model":"OLS","est":18.9,"obs":15.5},{"month":"Nov","model":"OLS","est":31.0,"obs":11.1},{"month":"Nov","model":"OLS","est":14.8,"obs":21.3},{"month":"Nov","model":"OLS","est":13.2,"obs":18.3},{"month":"Nov","model":"OLS","est":15.7,"obs":17.4},{"month":"Nov","model":"OLS","est":10.9,"obs":14.7},{"month":"Nov","model":"OLS","est":8.4,"obs":9.7},{"month":"Nov","model":"OLS","est":11.8,"obs":11.6},{"month":"Nov","model":"OLS","est":13.9,"obs":10.5},{"month":"Nov","model":"OLS","est":16.6,"obs":10.8},{"month":"Nov","model":"OLS","est":15.5,"obs":7.5},{"month":"Nov","model":"OLS","est":12.1,"obs":5.8},{"month":"Nov","model":"OLS","est":11.4,"obs":1.1},{"month":"Nov","model":"OLS","est":13.4,"obs":1.7},{"month":"Nov","model":"OLS","est":5.7,"obs":3.3},{"month":"Nov","model":"OLS","est":3.2,"obs":6.4},{"month":"Nov","model":"OLS","est":2.3,"obs":0},{"month":"Nov","model":"OLS","est":0,"obs":1.7},{"month":"Nov","model":"OLS","est":7.1,"obs":1.7},{"month":"Nov","model":"OLS","est":4.6,"obs":4.4},{"month":"Nov","model":"OLS","est":9.6,"obs":6.4},
      {"month":"Nov","model":"QR","est":130.1,"obs":133.6},{"month":"Nov","model":"QR","est":118.2,"obs":122.0},{"month":"Nov","model":"QR","est":116.0,"obs":120.1},{"month":"Nov","model":"QR","est":110.7,"obs":114.6},{"month":"Nov","model":"QR","est":99.7,"obs":101.5},{"month":"Nov","model":"QR","est":82.1,"obs":82.7},{"month":"Nov","model":"QR","est":76.6,"obs":76.1},{"month":"Nov","model":"QR","est":74.8,"obs":75.3},{"month":"Nov","model":"QR","est":73.3,"obs":74.4},{"month":"Nov","model":"QR","est":66.0,"obs":68.3},{"month":"Nov","model":"QR","est":62.1,"obs":63.4},{"month":"Nov","model":"QR","est":57.9,"obs":59.8},{"month":"Nov","model":"QR","est":54.2,"obs":52.6},{"month":"Nov","model":"QR","est":52.4,"obs":55.4},{"month":"Nov","model":"QR","est":48.0,"obs":47.0},{"month":"Nov","model":"QR","est":40.3,"obs":39.6},{"month":"Nov","model":"QR","est":37.9,"obs":37.6},{"month":"Nov","model":"QR","est":36.5,"obs":36.0},{"month":"Nov","model":"QR","est":32.1,"obs":34.9},{"month":"Nov","model":"QR","est":30.4,"obs":31.3},{"month":"Nov","model":"QR","est":28.6,"obs":29.3},{"month":"Nov","model":"QR","est":26.0,"obs":24.6},{"month":"Nov","model":"QR","est":23.8,"obs":23.5},{"month":"Nov","model":"QR","est":21.1,"obs":21.3},{"month":"Nov","model":"QR","est":18.3,"obs":18.3},{"month":"Nov","model":"QR","est":16.1,"obs":16.6},{"month":"Nov","model":"QR","est":13.9,"obs":14.7},{"month":"Nov","model":"QR","est":11.7,"obs":12.5},{"month":"Nov","model":"QR","est":9.5,"obs":9.7},{"month":"Nov","model":"QR","est":7.3,"obs":7.5},{"month":"Nov","model":"QR","est":5.1,"obs":5.5},{"month":"Nov","model":"QR","est":2.9,"obs":3.3},{"month":"Nov","model":"QR","est":0.7,"obs":1.1},{"month":"Nov","model":"QR","est":27.7,"obs":26.8},{"month":"Nov","model":"QR","est":17.2,"obs":17.4},{"month":"Nov","model":"QR","est":15.0,"obs":15.5},{"month":"Nov","model":"QR","est":10.6,"obs":11.1},{"month":"Nov","model":"QR","est":6.2,"obs":6.6},{"month":"Nov","model":"QR","est":4.0,"obs":4.4},{"month":"Nov","model":"QR","est":1.8,"obs":2.2},
      {"month":"Dec","model":"TRMM","est":83.9,"obs":91.6},{"month":"Dec","model":"TRMM","est":86.4,"obs":68.1},{"month":"Dec","model":"TRMM","est":71.1,"obs":69.2},{"month":"Dec","model":"TRMM","est":70.4,"obs":62.0},{"month":"Dec","model":"TRMM","est":70.3,"obs":54.8},{"month":"Dec","model":"TRMM","est":70.4,"obs":32.7},{"month":"Dec","model":"TRMM","est":67.9,"obs":6.6},{"month":"Dec","model":"TRMM","est":63.6,"obs":48.1},{"month":"Dec","model":"TRMM","est":63.3,"obs":37.9},{"month":"Dec","model":"TRMM","est":59.4,"obs":45.9},{"month":"Dec","model":"TRMM","est":57.1,"obs":32.9},{"month":"Dec","model":"TRMM","est":56.1,"obs":37.9},{"month":"Dec","model":"TRMM","est":56.8,"obs":24.9},{"month":"Dec","model":"TRMM","est":55.1,"obs":28.5},{"month":"Dec","model":"TRMM","est":55.8,"obs":57.8},{"month":"Dec","model":"TRMM","est":54.4,"obs":19.4},{"month":"Dec","model":"TRMM","est":51.3,"obs":48.4},{"month":"Dec","model":"TRMM","est":51.9,"obs":37.9},{"month":"Dec","model":"TRMM","est":50.7,"obs":38.2},{"month":"Dec","model":"TRMM","est":49.3,"obs":37.9},{"month":"Dec","model":"TRMM","est":47.5,"obs":32.7},{"month":"Dec","model":"TRMM","est":46.3,"obs":31.3},{"month":"Dec","model":"TRMM","est":44.9,"obs":30.7},{"month":"Dec","model":"TRMM","est":42.8,"obs":79.4},{"month":"Dec","model":"TRMM","est":44.2,"obs":47.9},{"month":"Dec","model":"TRMM","est":43.8,"obs":45.9},{"month":"Dec","model":"TRMM","est":41.1,"obs":40.1},{"month":"Dec","model":"TRMM","est":41.1,"obs":29.3},{"month":"Dec","model":"TRMM","est":42.1,"obs":30.2},{"month":"Dec","model":"TRMM","est":42.5,"obs":25.7},{"month":"Dec","model":"TRMM","est":44.9,"obs":18.8},{"month":"Dec","model":"TRMM","est":45.8,"obs":16.6},{"month":"Dec","model":"TRMM","est":38.3,"obs":33.5},{"month":"Dec","model":"TRMM","est":38.3,"obs":23.0},{"month":"Dec","model":"TRMM","est":37.5,"obs":20.8},{"month":"Dec","model":"TRMM","est":36.9,"obs":52.6},{"month":"Dec","model":"TRMM","est":35.0,"obs":41.2},{"month":"Dec","model":"TRMM","est":34.1,"obs":29.6},{"month":"Dec","model":"TRMM","est":34.8,"obs":20.8},{"month":"Dec","model":"TRMM","est":31.9,"obs":23.2},{"month":"Dec","model":"TRMM","est":29.5,"obs":29.1},{"month":"Dec","model":"TRMM","est":27.9,"obs":20.8},{"month":"Dec","model":"TRMM","est":25.5,"obs":20.8},{"month":"Dec","model":"TRMM","est":29.6,"obs":10.2},{"month":"Dec","model":"TRMM","est":35.6,"obs":7.2},{"month":"Dec","model":"TRMM","est":37.1,"obs":7.2},{"month":"Dec","model":"TRMM","est":17.7,"obs":31.3},{"month":"Dec","model":"TRMM","est":17.3,"obs":24.6},{"month":"Dec","model":"TRMM","est":17.9,"obs":20.8},{"month":"Dec","model":"TRMM","est":17.7,"obs":10.2},{"month":"Dec","model":"TRMM","est":21.4,"obs":2.5},{"month":"Dec","model":"TRMM","est":24.5,"obs":2.5},{"month":"Dec","model":"TRMM","est":10.8,"obs":9.7},{"month":"Dec","model":"TRMM","est":9.8,"obs":4.2},{"month":"Dec","model":"TRMM","est":11.5,"obs":0},{"month":"Dec","model":"TRMM","est":7.1,"obs":4.7},{"month":"Dec","model":"TRMM","est":4.8,"obs":7.2},{"month":"Dec","model":"TRMM","est":3.8,"obs":4.7},{"month":"Dec","model":"TRMM","est":5.2,"obs":8.9},{"month":"Dec","model":"TRMM","est":0.9,"obs":0},{"month":"Dec","model":"TRMM","est":1.8,"obs":0.2},
      {"month":"Dec","model":"OLS","est":68.1,"obs":91.6},{"month":"Dec","model":"OLS","est":69.8,"obs":68.1},{"month":"Dec","model":"OLS","est":57.3,"obs":69.2},{"month":"Dec","model":"OLS","est":56.3,"obs":62.0},{"month":"Dec","model":"OLS","est":56.3,"obs":54.8},{"month":"Dec","model":"OLS","est":56.8,"obs":32.7},{"month":"Dec","model":"OLS","est":54.4,"obs":6.6},{"month":"Dec","model":"OLS","est":51.0,"obs":48.1},{"month":"Dec","model":"OLS","est":50.6,"obs":37.9},{"month":"Dec","model":"OLS","est":47.5,"obs":45.9},{"month":"Dec","model":"OLS","est":45.1,"obs":24.6},{"month":"Dec","model":"OLS","est":44.5,"obs":37.9},{"month":"Dec","model":"OLS","est":45.7,"obs":32.9},{"month":"Dec","model":"OLS","est":43.9,"obs":28.5},{"month":"Dec","model":"OLS","est":44.5,"obs":57.8},{"month":"Dec","model":"OLS","est":43.1,"obs":19.4},{"month":"Dec","model":"OLS","est":40.6,"obs":48.4},{"month":"Dec","model":"OLS","est":41.8,"obs":37.9},{"month":"Dec","model":"OLS","est":40.5,"obs":37.9},{"month":"Dec","model":"OLS","est":38.7,"obs":37.6},{"month":"Dec","model":"OLS","est":37.5,"obs":33.2},{"month":"Dec","model":"OLS","est":36.6,"obs":30.7},{"month":"Dec","model":"OLS","est":35.4,"obs":29.6},{"month":"Dec","model":"OLS","est":33.6,"obs":79.4},{"month":"Dec","model":"OLS","est":34.7,"obs":49.6},{"month":"Dec","model":"OLS","est":34.3,"obs":46.8},{"month":"Dec","model":"OLS","est":31.8,"obs":40.1},{"month":"Dec","model":"OLS","est":31.9,"obs":29.3},{"month":"Dec","model":"OLS","est":33.1,"obs":29.3},{"month":"Dec","model":"OLS","est":33.2,"obs":25.2},{"month":"Dec","model":"OLS","est":35.5,"obs":18.5},{"month":"Dec","model":"OLS","est":36.4,"obs":15.8},{"month":"Dec","model":"OLS","est":29.7,"obs":33.2},{"month":"Dec","model":"OLS","est":29.7,"obs":23.0},{"month":"Dec","model":"OLS","est":29.7,"obs":20.8},{"month":"Dec","model":"OLS","est":28.4,"obs":53.1},{"month":"Dec","model":"OLS","est":26.5,"obs":41.0},{"month":"Dec","model":"OLS","est":26.2,"obs":29.9},{"month":"Dec","model":"OLS","est":27.2,"obs":20.5},{"month":"Dec","model":"OLS","est":24.5,"obs":23.0},{"month":"Dec","model":"OLS","est":22.3,"obs":27.1},{"month":"Dec","model":"OLS","est":21.4,"obs":22.1},{"month":"Dec","model":"OLS","est":18.8,"obs":20.8},{"month":"Dec","model":"OLS","est":22.4,"obs":10.5},{"month":"Dec","model":"OLS","est":27.3,"obs":7.2},{"month":"Dec","model":"OLS","est":29.0,"obs":7.2},{"month":"Dec","model":"OLS","est":13.2,"obs":31.3},{"month":"Dec","model":"OLS","est":12.6,"obs":24.4},{"month":"Dec","model":"OLS","est":12.7,"obs":20.5},{"month":"Dec","model":"OLS","est":12.6,"obs":10.5},{"month":"Dec","model":"OLS","est":15.7,"obs":2.5},{"month":"Dec","model":"OLS","est":18.4,"obs":2.5},{"month":"Dec","model":"OLS","est":7.0,"obs":9.7},{"month":"Dec","model":"OLS","est":6.6,"obs":4.2},{"month":"Dec","model":"OLS","est":7.4,"obs":0},{"month":"Dec","model":"OLS","est":4.2,"obs":4.7},{"month":"Dec","model":"OLS","est":2.4,"obs":8.0},{"month":"Dec","model":"OLS","est":1.4,"obs":2.8},{"month":"Dec","model":"OLS","est":0.1,"obs":0},
      {"month":"Dec","model":"QR","est":94.2,"obs":98.2},{"month":"Dec","model":"QR","est":91.3,"obs":91.6},{"month":"Dec","model":"QR","est":70.8,"obs":69.2},{"month":"Dec","model":"QR","est":70.0,"obs":68.1},{"month":"Dec","model":"QR","est":61.3,"obs":79.4},{"month":"Dec","model":"QR","est":63.2,"obs":62.0},{"month":"Dec","model":"QR","est":57.6,"obs":58.1},{"month":"Dec","model":"QR","est":56.6,"obs":54.8},{"month":"Dec","model":"QR","est":53.1,"obs":53.1},{"month":"Dec","model":"QR","est":50.8,"obs":48.1},{"month":"Dec","model":"QR","est":47.9,"obs":48.1},{"month":"Dec","model":"QR","est":47.3,"obs":46.5},{"month":"Dec","model":"QR","est":40.8,"obs":41.0},{"month":"Dec","model":"QR","est":40.1,"obs":37.9},{"month":"Dec","model":"QR","est":38.7,"obs":37.6},{"month":"Dec","model":"QR","est":37.3,"obs":37.9},{"month":"Dec","model":"QR","est":34.4,"obs":33.5},{"month":"Dec","model":"QR","est":33.0,"obs":32.4},{"month":"Dec","model":"QR","est":31.8,"obs":30.7},{"month":"Dec","model":"QR","est":30.6,"obs":29.9},{"month":"Dec","model":"QR","est":28.0,"obs":31.0},{"month":"Dec","model":"QR","est":26.9,"obs":27.1},{"month":"Dec","model":"QR","est":26.3,"obs":24.6},{"month":"Dec","model":"QR","est":23.9,"obs":23.2},{"month":"Dec","model":"QR","est":23.2,"obs":21.9},{"month":"Dec","model":"QR","est":21.8,"obs":19.9},{"month":"Dec","model":"QR","est":20.7,"obs":20.5},{"month":"Dec","model":"QR","est":19.2,"obs":18.5},{"month":"Dec","model":"QR","est":15.9,"obs":16.6},{"month":"Dec","model":"QR","est":30.6,"obs":6.6},{"month":"Dec","model":"QR","est":11.1,"obs":10.5},{"month":"Dec","model":"QR","est":10.6,"obs":7.7},{"month":"Dec","model":"QR","est":6.1,"obs":6.4},{"month":"Dec","model":"QR","est":4.5,"obs":4.4},{"month":"Dec","model":"QR","est":3.4,"obs":2.8},{"month":"Dec","model":"QR","est":0.3,"obs":0},{"month":"Dec","model":"QR","est":29.6,"obs":28.6},{"month":"Dec","model":"QR","est":25.4,"obs":24.8},{"month":"Dec","model":"QR","est":17.6,"obs":17.3},{"month":"Dec","model":"QR","est":12.7,"obs":11.9},{"month":"Dec","model":"QR","est":7.7,"obs":7.8}
    ]
  },
  "spacing": 13,
  "vconcat": [
    {"hconcat": [
      {"width": 346, "height": 170, "layer": [
        {"data": {"name": "pts"}, "transform": [{"filter": "datum.month == 'Jun' && datum.model == 'TRMM'"}], "mark": {"type": "circle", "fill": "#595959", "size": 42},
         "encoding": {"x": {"field": "est", "type": "quantitative", "scale": {"domain": [0, 80], "nice": false}, "axis": {"values": [0, 20, 40, 60, 80], "title": null}},
                      "y": {"field": "obs", "type": "quantitative", "scale": {"domain": [0, 80], "nice": false}, "axis": {"values": [0, 20, 40, 60, 80], "title": "(mm) بارش مشاهده\u200cای"}}}},
        {"data": {"name": "diag"}, "transform": [{"filter": "datum.month == 'Jun'"}], "mark": "line", "encoding": {"x": {"field": "v", "type": "quantitative"}, "y": {"field": "v", "type": "quantitative"}}},
        {"data": {"name": "stats"}, "transform": [{"filter": "datum.month == 'Jun' && datum.model == 'TRMM'"}], "mark": "text", "encoding": {"x": {"datum": 0}, "y": {"datum": 80}, "text": {"field": "text"}}}
      ]},
      {"width": 341, "height": 170, "layer": [
        {"data": {"name": "pts"}, "transform": [{"filter": "datum.month == 'Jun' && datum.model == 'OLS'"}], "mark": {"type": "circle", "fill": "#4d4d4d", "stroke": "#8dc63f", "strokeWidth": 1.6, "size": 22},
         "encoding": {"x": {"field": "est", "type": "quantitative", "scale": {"domain": [0, 80], "nice": false}, "axis": {"values": [0, 20, 40, 60, 80], "title": null}},
                      "y": {"field": "obs", "type": "quantitative", "scale": {"domain": [0, 80], "nice": false}, "axis": {"values": [0, 20, 40, 60, 80], "title": null}}}},
        {"data": {"name": "diag"}, "transform": [{"filter": "datum.month == 'Jun'"}], "mark": "line", "encoding": {"x": {"field": "v", "type": "quantitative"}, "y": {"field": "v", "type": "quantitative"}}},
        {"data": {"name": "stats"}, "transform": [{"filter": "datum.month == 'Jun' && datum.model == 'OLS'"}], "mark": "text", "encoding": {"x": {"datum": 0}, "y": {"datum": 80}, "text": {"field": "text"}}}
      ]},
      {"width": 337, "height": 170, "layer": [
        {"data": {"name": "pts"}, "transform": [{"filter": "datum.month == 'Jun' && datum.model == 'QR'"}], "mark": {"type": "circle", "fill": "#4d4d4d", "stroke": "#5b9bd5", "strokeWidth": 1.6, "size": 22},
         "encoding": {"x": {"field": "est", "type": "quantitative", "scale": {"domain": [0, 80], "nice": false}, "axis": {"values": [0, 20, 40, 60, 80], "title": null}},
                      "y": {"field": "obs", "type": "quantitative", "scale": {"domain": [0, 80], "nice": false}, "axis": {"values": [0, 20, 40, 60, 80], "title": null}}}},
        {"data": {"name": "diag"}, "transform": [{"filter": "datum.month == 'Jun'"}], "mark": "line", "encoding": {"x": {"field": "v", "type": "quantitative"}, "y": {"field": "v", "type": "quantitative"}}},
        {"data": {"name": "stats"}, "transform": [{"filter": "datum.month == 'Jun' && datum.model == 'QR'"}], "mark": "text", "encoding": {"x": {"datum": 0}, "y": {"datum": 80}, "text": {"field": "text"}}},
        {"data": {"name": "months"}, "transform": [{"filter": "datum.month == 'Jun'"}], "mark": {"type": "text", "align": "right", "baseline": "bottom", "dx": -1, "dy": 1, "fontSize": 18, "fontWeight": "bold", "font": "DejaVu Sans"}, "encoding": {"x": {"datum": 80}, "y": {"datum": 0}, "text": {"field": "name"}}}
      ]}
    ], "spacing": 37},
    {"hconcat": [
      {"width": 346, "height": 170, "layer": [
        {"data": {"name": "pts"}, "transform": [{"filter": "datum.month == 'Jul' && datum.model == 'TRMM'"}], "mark": {"type": "circle", "fill": "#595959", "size": 42},
         "encoding": {"x": {"field": "est", "type": "quantitative", "scale": {"domain": [0, 80], "nice": false}, "axis": {"values": [0, 20, 40, 60, 80], "title": null}},
                      "y": {"field": "obs", "type": "quantitative", "scale": {"domain": [0, 80], "nice": false}, "axis": {"values": [0, 20, 40, 60, 80], "title": "(mm) بارش مشاهده\u200cای"}}}},
        {"data": {"name": "diag"}, "transform": [{"filter": "datum.month == 'Jul'"}], "mark": "line", "encoding": {"x": {"field": "v", "type": "quantitative"}, "y": {"field": "v", "type": "quantitative"}}},
        {"data": {"name": "stats"}, "transform": [{"filter": "datum.month == 'Jul' && datum.model == 'TRMM'"}], "mark": "text", "encoding": {"x": {"datum": 0}, "y": {"datum": 80}, "text": {"field": "text"}}}
      ]},
      {"width": 341, "height": 170, "layer": [
        {"data": {"name": "pts"}, "transform": [{"filter": "datum.month == 'Jul' && datum.model == 'OLS'"}], "mark": {"type": "circle", "fill": "#4d4d4d", "stroke": "#8dc63f", "strokeWidth": 1.6, "size": 22},
         "encoding": {"x": {"field": "est", "type": "quantitative", "scale": {"domain": [0, 80], "nice": false}, "axis": {"values": [0, 20, 40, 60, 80], "title": null}},
                      "y": {"field": "obs", "type": "quantitative", "scale": {"domain": [0, 80], "nice": false}, "axis": {"values": [0, 20, 40, 60, 80], "title": null}}}},
        {"data": {"name": "diag"}, "transform": [{"filter": "datum.month == 'Jul'"}], "mark": "line", "encoding": {"x": {"field": "v", "type": "quantitative"}, "y": {"field": "v", "type": "quantitative"}}},
        {"data": {"name": "stats"}, "transform": [{"filter": "datum.month == 'Jul' && datum.model == 'OLS'"}], "mark": "text", "encoding": {"x": {"datum": 0}, "y": {"datum": 80}, "text": {"field": "text"}}}
      ]},
      {"width": 337, "height": 170, "layer": [
        {"data": {"name": "pts"}, "transform": [{"filter": "datum.month == 'Jul' && datum.model == 'QR'"}], "mark": {"type": "circle", "fill": "#4d4d4d", "stroke": "#5b9bd5", "strokeWidth": 1.6, "size": 22},
         "encoding": {"x": {"field": "est", "type": "quantitative", "scale": {"domain": [0, 80], "nice": false}, "axis": {"values": [0, 20, 40, 60, 80], "title": null}},
                      "y": {"field": "obs", "type": "quantitative", "scale": {"domain": [0, 80], "nice": false}, "axis": {"values": [0, 20, 40, 60, 80], "title": null}}}},
        {"data": {"name": "diag"}, "transform": [{"filter": "datum.month == 'Jul'"}], "mark": "line", "encoding": {"x": {"field": "v", "type": "quantitative"}, "y": {"field": "v", "type": "quantitative"}}},
        {"data": {"name": "stats"}, "transform": [{"filter": "datum.month == 'Jul' && datum.model == 'QR'"}], "mark": "text", "encoding": {"x": {"datum": 0}, "y": {"datum": 80}, "text": {"field": "text"}}},
        {"data": {"name": "months"}, "transform": [{"filter": "datum.month == 'Jul'"}], "mark": {"type": "text", "align": "right", "baseline": "bottom", "dx": -1, "dy": 1, "fontSize": 18, "fontWeight": "bold", "font": "DejaVu Sans"}, "encoding": {"x": {"datum": 80}, "y": {"datum": 0}, "text": {"field": "name"}}}
      ]}
    ], "spacing": 37},
    {"hconcat": [
      {"width": 346, "height": 170, "layer": [
        {"data": {"name": "pts"}, "transform": [{"filter": "datum.month == 'Aug' && datum.model == 'TRMM'"}], "mark": {"type": "circle", "fill": "#595959", "size": 42},
         "encoding": {"x": {"field": "est", "type": "quantitative", "scale": {"domain": [0, 40], "nice": false}, "axis": {"values": [0, 10, 20, 30, 40], "title": null}},
                      "y": {"field": "obs", "type": "quantitative", "scale": {"domain": [0, 40], "nice": false}, "axis": {"values": [0, 10, 20, 30, 40], "title": "(mm) بارش مشاهده\u200cای"}}}},
        {"data": {"name": "diag"}, "transform": [{"filter": "datum.month == 'Aug'"}], "mark": "line", "encoding": {"x": {"field": "v", "type": "quantitative"}, "y": {"field": "v", "type": "quantitative"}}},
        {"data": {"name": "stats"}, "transform": [{"filter": "datum.month == 'Aug' && datum.model == 'TRMM'"}], "mark": "text", "encoding": {"x": {"datum": 0}, "y": {"datum": 40}, "text": {"field": "text"}}}
      ]},
      {"width": 341, "height": 170, "layer": [
        {"data": {"name": "pts"}, "transform": [{"filter": "datum.month == 'Aug' && datum.model == 'OLS'"}], "mark": {"type": "circle", "fill": "#4d4d4d", "stroke": "#8dc63f", "strokeWidth": 1.6, "size": 22},
         "encoding": {"x": {"field": "est", "type": "quantitative", "scale": {"domain": [0, 40], "nice": false}, "axis": {"values": [0, 10, 20, 30, 40], "title": null}},
                      "y": {"field": "obs", "type": "quantitative", "scale": {"domain": [0, 40], "nice": false}, "axis": {"values": [0, 10, 20, 30, 40], "title": null}}}},
        {"data": {"name": "diag"}, "transform": [{"filter": "datum.month == 'Aug'"}], "mark": "line", "encoding": {"x": {"field": "v", "type": "quantitative"}, "y": {"field": "v", "type": "quantitative"}}},
        {"data": {"name": "stats"}, "transform": [{"filter": "datum.month == 'Aug' && datum.model == 'OLS'"}], "mark": "text", "encoding": {"x": {"datum": 0}, "y": {"datum": 40}, "text": {"field": "text"}}}
      ]},
      {"width": 337, "height": 170, "layer": [
        {"data": {"name": "pts"}, "transform": [{"filter": "datum.month == 'Aug' && datum.model == 'QR'"}], "mark": {"type": "circle", "fill": "#4d4d4d", "stroke": "#5b9bd5", "strokeWidth": 1.6, "size": 22},
         "encoding": {"x": {"field": "est", "type": "quantitative", "scale": {"domain": [0, 40], "nice": false}, "axis": {"values": [0, 10, 20, 30, 40], "title": null}},
                      "y": {"field": "obs", "type": "quantitative", "scale": {"domain": [0, 40], "nice": false}, "axis": {"values": [0, 10, 20, 30, 40], "title": null}}}},
        {"data": {"name": "diag"}, "transform": [{"filter": "datum.month == 'Aug'"}], "mark": "line", "encoding": {"x": {"field": "v", "type": "quantitative"}, "y": {"field": "v", "type": "quantitative"}}},
        {"data": {"name": "stats"}, "transform": [{"filter": "datum.month == 'Aug' && datum.model == 'QR'"}], "mark": "text", "encoding": {"x": {"datum": 0}, "y": {"datum": 40}, "text": {"field": "text"}}},
        {"data": {"name": "months"}, "transform": [{"filter": "datum.month == 'Aug'"}], "mark": {"type": "text", "align": "right", "baseline": "bottom", "dx": -1, "dy": 1, "fontSize": 18, "fontWeight": "bold", "font": "DejaVu Sans"}, "encoding": {"x": {"datum": 40}, "y": {"datum": 0}, "text": {"field": "name"}}}
      ]}
    ], "spacing": 37},
    {"hconcat": [
      {"width": 346, "height": 170, "layer": [
        {"data": {"name": "pts"}, "transform": [{"filter": "datum.month == 'Sep' && datum.model == 'TRMM'"}], "mark": {"type": "circle", "fill": "#595959", "size": 42},
         "encoding": {"x": {"field": "est", "type": "quantitative", "scale": {"domain": [0, 40], "nice": false}, "axis": {"values": [0, 10, 20, 30, 40], "title": null}},
                      "y": {"field": "obs", "type": "quantitative", "scale": {"domain": [0, 40], "nice": false}, "axis": {"values": [0, 10, 20, 30, 40], "title": "(mm) بارش مشاهده\u200cای"}}}},
        {"data": {"name": "diag"}, "transform": [{"filter": "datum.month == 'Sep'"}], "mark": "line", "encoding": {"x": {"field": "v", "type": "quantitative"}, "y": {"field": "v", "type": "quantitative"}}},
        {"data": {"name": "stats"}, "transform": [{"filter": "datum.month == 'Sep' && datum.model == 'TRMM'"}], "mark": "text", "encoding": {"x": {"datum": 0}, "y": {"datum": 40}, "text": {"field": "text"}}}
      ]},
      {"width": 341, "height": 170, "layer": [
        {"data": {"name": "pts"}, "transform": [{"filter": "datum.month == 'Sep' && datum.model == 'OLS'"}], "mark": {"type": "circle", "fill": "#4d4d4d", "stroke": "#8dc63f", "strokeWidth": 1.6, "size": 22},
         "encoding": {"x": {"field": "est", "type": "quantitative", "scale": {"domain": [0, 40], "nice": false}, "axis": {"values": [0, 10, 20, 30, 40], "title": null}},
                      "y": {"field": "obs", "type": "quantitative", "scale": {"domain": [0, 40], "nice": false}, "axis": {"values": [0, 10, 20, 30, 40], "title": null}}}},
        {"data": {"name": "diag"}, "transform": [{"filter": "datum.month == 'Sep'"}], "mark": "line", "encoding": {"x": {"field": "v", "type": "quantitative"}, "y": {"field": "v", "type": "quantitative"}}},
        {"data": {"name": "stats"}, "transform": [{"filter": "datum.month == 'Sep' && datum.model == 'OLS'"}], "mark": "text", "encoding": {"x": {"datum": 0}, "y": {"datum": 40}, "text": {"field": "text"}}}
      ]},
      {"width": 337, "height": 170, "layer": [
        {"data": {"name": "pts"}, "transform": [{"filter": "datum.month == 'Sep' && datum.model == 'QR'"}], "mark": {"type": "circle", "fill": "#4d4d4d", "stroke": "#5b9bd5", "strokeWidth": 1.6, "size": 22},
         "encoding": {"x": {"field": "est", "type": "quantitative", "scale": {"domain": [0, 40], "nice": false}, "axis": {"values": [0, 10, 20, 30, 40], "title": null}},
                      "y": {"field": "obs", "type": "quantitative", "scale": {"domain": [0, 40], "nice": false}, "axis": {"values": [0, 10, 20, 30, 40], "title": null}}}},
        {"data": {"name": "diag"}, "transform": [{"filter": "datum.month == 'Sep'"}], "mark": "line", "encoding": {"x": {"field": "v", "type": "quantitative"}, "y": {"field": "v", "type": "quantitative"}}},
        {"data": {"name": "stats"}, "transform": [{"filter": "datum.month == 'Sep' && datum.model == 'QR'"}], "mark": "text", "encoding": {"x": {"datum": 0}, "y": {"datum": 40}, "text": {"field": "text"}}},
        {"data": {"name": "months"}, "transform": [{"filter": "datum.month == 'Sep'"}], "mark": {"type": "text", "align": "right", "baseline": "bottom", "dx": -1, "dy": 1, "fontSize": 18, "fontWeight": "bold", "font": "DejaVu Sans"}, "encoding": {"x": {"datum": 40}, "y": {"datum": 0}, "text": {"field": "name"}}}
      ]}
    ], "spacing": 37},
    {"hconcat": [
      {"width": 346, "height": 170, "layer": [
        {"data": {"name": "pts"}, "transform": [{"filter": "datum.month == 'Oct' && datum.model == 'TRMM'"}], "mark": {"type": "circle", "fill": "#595959", "size": 42},
         "encoding": {"x": {"field": "est", "type": "quantitative", "scale": {"domain": [0, 60], "nice": false}, "axis": {"values": [0, 10, 20, 30, 40, 50, 60], "title": null}},
                      "y": {"field": "obs", "type": "quantitative", "scale": {"domain": [0, 60], "nice": false}, "axis": {"values": [0, 20, 40, 60], "title": "(mm) بارش مشاهده\u200cای"}}}},
        {"data": {"name": "diag"}, "transform": [{"filter": "datum.month == 'Oct'"}], "mark": "line", "encoding": {"x": {"field": "v", "type": "quantitative"}, "y": {"field": "v", "type": "quantitative"}}},
        {"data": {"name": "stats"}, "transform": [{"filter": "datum.month == 'Oct' && datum.model == 'TRMM'"}], "mark": "text", "encoding": {"x": {"datum": 0}, "y": {"datum": 60}, "text": {"field": "text"}}}
      ]},
      {"width": 341, "height": 170, "layer": [
        {"data": {"name": "pts"}, "transform": [{"filter": "datum.month == 'Oct' && datum.model == 'OLS'"}], "mark": {"type": "circle", "fill": "#4d4d4d", "stroke": "#8dc63f", "strokeWidth": 1.6, "size": 22},
         "encoding": {"x": {"field": "est", "type": "quantitative", "scale": {"domain": [0, 60], "nice": false}, "axis": {"values": [0, 10, 20, 30, 40, 50, 60], "title": null}},
                      "y": {"field": "obs", "type": "quantitative", "scale": {"domain": [0, 60], "nice": false}, "axis": {"values": [0, 20, 40, 60], "title": null}}}},
        {"data": {"name": "diag"}, "transform": [{"filter": "datum.month == 'Oct'"}], "mark": "line", "encoding": {"x": {"field": "v", "type": "quantitative"}, "y": {"field": "v", "type": "quantitative"}}},
        {"data": {"name": "stats"}, "transform": [{"filter": "datum.month == 'Oct' && datum.model == 'OLS'"}], "mark": "text", "encoding": {"x": {"datum": 0}, "y": {"datum": 60}, "text": {"field": "text"}}}
      ]},
      {"width": 337, "height": 170, "layer": [
        {"data": {"name": "pts"}, "transform": [{"filter": "datum.month == 'Oct' && datum.model == 'QR'"}], "mark": {"type": "circle", "fill": "#4d4d4d", "stroke": "#5b9bd5", "strokeWidth": 1.6, "size": 22},
         "encoding": {"x": {"field": "est", "type": "quantitative", "scale": {"domain": [0, 60], "nice": false}, "axis": {"values": [0, 10, 20, 30, 40, 50, 60], "title": null}},
                      "y": {"field": "obs", "type": "quantitative", "scale": {"domain": [0, 60], "nice": false}, "axis": {"values": [0, 20, 40, 60], "title": null}}}},
        {"data": {"name": "diag"}, "transform": [{"filter": "datum.month == 'Oct'"}], "mark": "line", "encoding": {"x": {"field": "v", "type": "quantitative"}, "y": {"field": "v", "type": "quantitative"}}},
        {"data": {"name": "stats"}, "transform": [{"filter": "datum.month == 'Oct' && datum.model == 'QR'"}], "mark": "text", "encoding": {"x": {"datum": 0}, "y": {"datum": 60}, "text": {"field": "text"}}},
        {"data": {"name": "months"}, "transform": [{"filter": "datum.month == 'Oct'"}], "mark": {"type": "text", "align": "right", "baseline": "bottom", "dx": -1, "dy": 1, "fontSize": 18, "fontWeight": "bold", "font": "DejaVu Sans"}, "encoding": {"x": {"datum": 60}, "y": {"datum": 0}, "text": {"field": "name"}}}
      ]}
    ], "spacing": 37},
    {"hconcat": [
      {"width": 346, "height": 170, "layer": [
        {"data": {"name": "pts"}, "transform": [{"filter": "datum.month == 'Nov' && datum.model == 'TRMM'"}], "mark": {"type": "circle", "fill": "#595959", "size": 42},
         "encoding": {"x": {"field": "est", "type": "quantitative", "scale": {"domain": [0, 140], "nice": false}, "axis": {"values": [0, 20, 40, 60, 80, 100, 120, 140], "title": null}},
                      "y": {"field": "obs", "type": "quantitative", "scale": {"domain": [0, 140], "nice": false}, "axis": {"values": [0, 20, 40, 60, 80, 100, 120, 140], "title": "(mm) بارش مشاهده\u200cای"}}}},
        {"data": {"name": "diag"}, "transform": [{"filter": "datum.month == 'Nov'"}], "mark": "line", "encoding": {"x": {"field": "v", "type": "quantitative"}, "y": {"field": "v", "type": "quantitative"}}},
        {"data": {"name": "stats"}, "transform": [{"filter": "datum.month == 'Nov' && datum.model == 'TRMM'"}], "mark": "text", "encoding": {"x": {"datum": 0}, "y": {"datum": 140}, "text": {"field": "text"}}}
      ]},
      {"width": 341, "height": 170, "layer": [
        {"data": {"name": "pts"}, "transform": [{"filter": "datum.month == 'Nov' && datum.model == 'OLS'"}], "mark": {"type": "circle", "fill": "#4d4d4d", "stroke": "#8dc63f", "strokeWidth": 1.6, "size": 22},
         "encoding": {"x": {"field": "est", "type": "quantitative", "scale": {"domain": [0, 140], "nice": false}, "axis": {"values": [0, 20, 40, 60, 80, 100, 120, 140], "title": null}},
                      "y": {"field": "obs", "type": "quantitative", "scale": {"domain": [0, 140], "nice": false}, "axis": {"values": [0, 20, 40, 60, 80, 100, 120, 140], "title": null}}}},
        {"data": {"name": "diag"}, "transform": [{"filter": "datum.month == 'Nov'"}], "mark": "line", "encoding": {"x": {"field": "v", "type": "quantitative"}, "y": {"field": "v", "type": "quantitative"}}},
        {"data": {"name": "stats"}, "transform": [{"filter": "datum.month == 'Nov' && datum.model == 'OLS'"}], "mark": "text", "encoding": {"x": {"datum": 0}, "y": {"datum": 140}, "text": {"field": "text"}}}
      ]},
      {"width": 337, "height": 170, "layer": [
        {"data": {"name": "pts"}, "transform": [{"filter": "datum.month == 'Nov' && datum.model == 'QR'"}], "mark": {"type": "circle", "fill": "#4d4d4d", "stroke": "#5b9bd5", "strokeWidth": 1.6, "size": 22},
         "encoding": {"x": {"field": "est", "type": "quantitative", "scale": {"domain": [0, 140], "nice": false}, "axis": {"values": [0, 20, 40, 60, 80, 100, 120, 140], "title": null}},
                      "y": {"field": "obs", "type": "quantitative", "scale": {"domain": [0, 140], "nice": false}, "axis": {"values": [0, 20, 40, 60, 80, 100, 120, 140], "title": null}}}},
        {"data": {"name": "diag"}, "transform": [{"filter": "datum.month == 'Nov'"}], "mark": "line", "encoding": {"x": {"field": "v", "type": "quantitative"}, "y": {"field": "v", "type": "quantitative"}}},
        {"data": {"name": "stats"}, "transform": [{"filter": "datum.month == 'Nov' && datum.model == 'QR'"}], "mark": "text", "encoding": {"x": {"datum": 0}, "y": {"datum": 140}, "text": {"field": "text"}}},
        {"data": {"name": "months"}, "transform": [{"filter": "datum.month == 'Nov'"}], "mark": {"type": "text", "align": "right", "baseline": "bottom", "dx": -1, "dy": 1, "fontSize": 18, "fontWeight": "bold", "font": "DejaVu Sans"}, "encoding": {"x": {"datum": 140}, "y": {"datum": 0}, "text": {"field": "name"}}}
      ]}
    ], "spacing": 33},
    {"hconcat": [
      {"width": 346, "height": 170, "layer": [
        {"data": {"name": "pts"}, "transform": [{"filter": "datum.month == 'Dec' && datum.model == 'TRMM'"}], "mark": {"type": "circle", "fill": "#595959", "size": 42},
         "encoding": {"x": {"field": "est", "type": "quantitative", "scale": {"domain": [0, 140], "nice": false}, "axis": {"values": [0, 20, 40, 60, 80, 100, 120, 140], "title": "(mm) TRMM بارش"}},
                      "y": {"field": "obs", "type": "quantitative", "scale": {"domain": [0, 140], "nice": false}, "axis": {"values": [0, 20, 40, 60, 80, 100, 120, 140], "title": "(mm) بارش مشاهده\u200cای"}}}},
        {"data": {"name": "diag"}, "transform": [{"filter": "datum.month == 'Dec'"}], "mark": "line", "encoding": {"x": {"field": "v", "type": "quantitative"}, "y": {"field": "v", "type": "quantitative"}}},
        {"data": {"name": "stats"}, "transform": [{"filter": "datum.month == 'Dec' && datum.model == 'TRMM'"}], "mark": "text", "encoding": {"x": {"datum": 0}, "y": {"datum": 140}, "text": {"field": "text"}}}
      ]},
      {"width": 341, "height": 170, "layer": [
        {"data": {"name": "pts"}, "transform": [{"filter": "datum.month == 'Dec' && datum.model == 'OLS'"}], "mark": {"type": "circle", "fill": "#4d4d4d", "stroke": "#8dc63f", "strokeWidth": 1.6, "size": 22},
         "encoding": {"x": {"field": "est", "type": "quantitative", "scale": {"domain": [0, 140], "nice": false}, "axis": {"values": [0, 20, 40, 60, 80, 100, 120, 140], "title": "(mm) TRMM بارش"}},
                      "y": {"field": "obs", "type": "quantitative", "scale": {"domain": [0, 140], "nice": false}, "axis": {"values": [0, 20, 40, 60, 80, 100, 120, 140], "title": null}}}},
        {"data": {"name": "diag"}, "transform": [{"filter": "datum.month == 'Dec'"}], "mark": "line", "encoding": {"x": {"field": "v", "type": "quantitative"}, "y": {"field": "v", "type": "quantitative"}}},
        {"data": {"name": "stats"}, "transform": [{"filter": "datum.month == 'Dec' && datum.model == 'OLS'"}], "mark": "text", "encoding": {"x": {"datum": 0}, "y": {"datum": 140}, "text": {"field": "text"}}}
      ]},
      {"width": 337, "height": 170, "layer": [
        {"data": {"name": "pts"}, "transform": [{"filter": "datum.month == 'Dec' && datum.model == 'QR'"}], "mark": {"type": "circle", "fill": "#4d4d4d", "stroke": "#5b9bd5", "strokeWidth": 1.6, "size": 22},
         "encoding": {"x": {"field": "est", "type": "quantitative", "scale": {"domain": [0, 140], "nice": false}, "axis": {"values": [0, 20, 40, 60, 80, 100, 120, 140], "title": "(mm) TRMM بارش"}},
                      "y": {"field": "obs", "type": "quantitative", "scale": {"domain": [0, 140], "nice": false}, "axis": {"values": [0, 20, 40, 60, 80, 100, 120, 140], "title": null}}}},
        {"data": {"name": "diag"}, "transform": [{"filter": "datum.month == 'Dec'"}], "mark": "line", "encoding": {"x": {"field": "v", "type": "quantitative"}, "y": {"field": "v", "type": "quantitative"}}},
        {"data": {"name": "stats"}, "transform": [{"filter": "datum.month == 'Dec' && datum.model == 'QR'"}], "mark": "text", "encoding": {"x": {"datum": 0}, "y": {"datum": 140}, "text": {"field": "text"}}},
        {"data": {"name": "months"}, "transform": [{"filter": "datum.month == 'Dec'"}], "mark": {"type": "text", "align": "right", "baseline": "bottom", "dx": -8, "dy": -12, "fontSize": 18, "fontWeight": "bold", "font": "DejaVu Sans"}, "encoding": {"x": {"datum": 140}, "y": {"datum": 0}, "text": {"field": "name"}}}
      ]}
    ], "spacing": 33}
  ]
}
